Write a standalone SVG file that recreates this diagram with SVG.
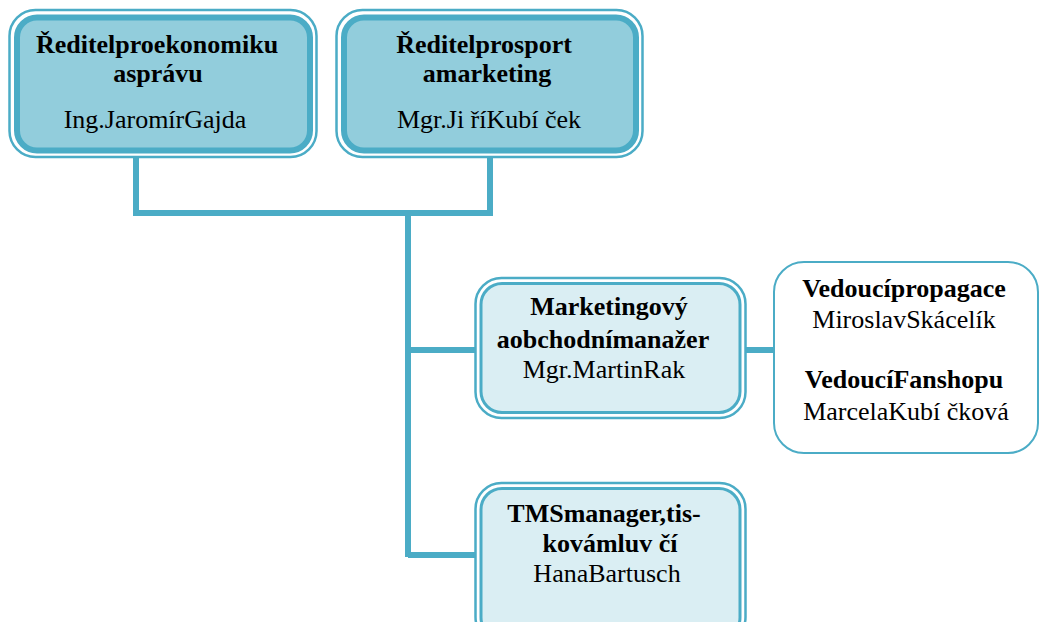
<svg xmlns="http://www.w3.org/2000/svg" width="1040" height="622" viewBox="0 0 1040 622">
<style>
.b{font-family:"Liberation Serif","Times New Roman",serif;font-size:26px;font-weight:bold;fill:#000;text-anchor:middle}
.n{font-family:"Liberation Serif","Times New Roman",serif;font-size:26px;fill:#000;text-anchor:middle}
.outer{fill:none;stroke:#4BACC6;stroke-width:2.5}
.topin{fill:#92CDDC;stroke:#4BACC6;stroke-width:6}
.lowin{fill:#DAEEF3;stroke:#4BACC6;stroke-width:3}
.con{fill:none;stroke:#4BACC6;stroke-width:6}
</style>
<rect width="1040" height="622" fill="#fff"/>
<g id="connectors">
<path class="con" d="M136 157 V213 H490 V157"/>
<path class="con" d="M408 216 V557"/>
<path class="con" d="M408 350 H476"/>
<path class="con" d="M408 555 H476"/>
<path class="con" d="M745 350 H774"/>
</g>
<g id="n1">
<rect class="outer" x="9.5" y="10" width="307" height="147" rx="26"/>
<rect class="topin" x="17" y="17.5" width="293" height="133" rx="20"/>
<text class="b" x="157" y="53">Ředitelproekonomiku</text>
<text class="b" x="158" y="82">asprávu</text>
<text class="n" x="155" y="128">Ing.JaromírGajda</text>
</g>
<g id="n2">
<rect class="outer" x="336.5" y="10" width="306" height="147" rx="26"/>
<rect class="topin" x="344" y="17.5" width="292" height="133" rx="20"/>
<text class="b" x="484" y="53">Ředitelprosport</text>
<text class="b" x="487" y="82">amarketing</text>
<text class="n" x="489" y="128">Mgr.Ji říKubí ček</text>
</g>
<g id="n3">
<rect class="outer" x="475.5" y="278" width="270" height="140" rx="26"/>
<rect class="lowin" x="481" y="283.5" width="259" height="129" rx="21"/>
<text class="b" x="609" y="315">Marketingový</text>
<text class="b" x="603" y="348">aobchodnímanažer</text>
<text class="n" x="604" y="378">Mgr.MartinRak</text>
</g>
<g id="n4">
<rect x="774" y="262" width="264" height="191" rx="30" fill="#fff" stroke="#4BACC6" stroke-width="2"/>
<text class="b" x="904" y="297">Vedoucípropagace</text>
<text class="n" x="904" y="328">MiroslavSkácelík</text>
<text class="b" x="904" y="388">VedoucíFanshopu</text>
<text class="n" x="906" y="420">MarcelaKubí čková</text>
</g>
<g id="n5">
<rect class="outer" x="475.5" y="483" width="270" height="160" rx="26"/>
<rect class="lowin" x="481" y="488.5" width="259" height="150" rx="21"/>
<text class="b" x="604" y="522">TMSmanager,tis-</text>
<text class="b" x="610" y="552">kovámluv čí</text>
<text class="n" x="607" y="582">HanaBartusch</text>
</g>
</svg>
